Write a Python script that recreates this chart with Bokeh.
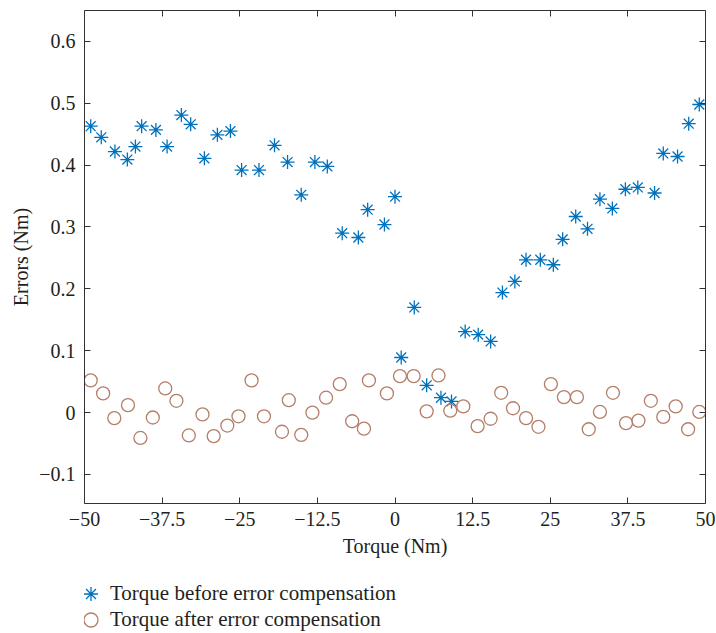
from bokeh.plotting import figure
from bokeh.layouts import column
from bokeh.models import Range1d, LinearAxis, FixedTicker, Legend, LegendItem
from bokeh.embed import file_html
from bokeh.resources import INLINE

# Torque before error compensation
x_before = [-49.0, -47.3, -45.1, -43.1, -41.8, -40.8, -38.5, -36.7, -34.4, -32.9,
            -30.7, -28.6, -26.5, -24.7, -21.9, -19.4, -17.3, -15.1, -12.9, -10.9,
            -8.5, -5.9, -4.4, -1.7, 0.0, 1.0, 3.1, 5.1, 7.4, 9.1,
            11.3, 13.4, 15.4, 17.3, 19.3, 21.1, 23.4, 25.5, 27.0, 29.1,
            31.0, 33.0, 35.0, 37.1, 39.1, 41.8, 43.2, 45.5, 47.3, 49.0]
y_before = [0.463, 0.445, 0.422, 0.409, 0.430, 0.463, 0.457, 0.430, 0.481, 0.466,
            0.411, 0.449, 0.455, 0.392, 0.392, 0.432, 0.405, 0.352, 0.405, 0.398,
            0.290, 0.283, 0.328, 0.304, 0.349, 0.089, 0.170, 0.044, 0.024, 0.018,
            0.131, 0.126, 0.115, 0.194, 0.212, 0.247, 0.247, 0.239, 0.280, 0.317,
            0.297, 0.345, 0.330, 0.361, 0.364, 0.355, 0.419, 0.414, 0.467, 0.498]

# Torque after error compensation
x_after = [-49.0, -47.0, -45.2, -43.0, -41.0, -39.0, -37.0, -35.2, -33.2, -31.0,
           -29.2, -27.0, -25.2, -23.1, -21.1, -18.2, -17.1, -15.1, -13.3, -11.1,
           -8.9, -6.9, -5.0, -4.2, -1.3, 0.8, 3.0, 5.1, 7.0, 8.9,
           11.0, 13.3, 15.4, 17.1, 19.0, 21.1, 23.1, 25.1, 27.2, 29.3,
           31.2, 33.0, 35.1, 37.2, 39.2, 41.2, 43.2, 45.2, 47.2, 49.0]
y_after = [0.052, 0.031, -0.009, 0.012, -0.041, -0.008, 0.039, 0.019, -0.037, -0.003,
           -0.038, -0.021, -0.006, 0.052, -0.006, -0.031, 0.020, -0.036, 0.000, 0.024,
           0.046, -0.014, -0.026, 0.052, 0.031, 0.059, 0.059, 0.002, 0.060, 0.003,
           0.010, -0.022, -0.010, 0.032, 0.007, -0.009, -0.023, 0.046, 0.025, 0.025,
           -0.027, 0.001, 0.032, -0.017, -0.013, 0.019, -0.007, 0.010, -0.027, 0.001]

x_ticks = [-50, -37.5, -25, -12.5, 0, 12.5, 25, 37.5, 50]
x_tick_labels = ["\u221250", "\u221237.5", "\u221225", "\u221212.5", "0", "12.5", "25", "37.5", "50"]
y_ticks = [-0.1, 0, 0.1, 0.2, 0.3, 0.4, 0.5, 0.6]
y_tick_labels = ["\u22120.1", "0", "0.1", "0.2", "0.3", "0.4", "0.5", "0.6"]

series_names = ["Torque before error compensation", "Torque after error compensation"]

FONT = "Liberation Serif"
TXT = "#231f20"
AX = "#333333"
BLUE = "#0072BD"
BROWN = "#B47E68"

p = figure(width=716, height=570, output_backend="svg", toolbar_location=None,
           x_range=Range1d(-50, 50), y_range=Range1d(-0.147, 0.65),
           min_border_left=84, min_border_right=11, min_border_top=10, min_border_bottom=67,
           x_axis_label="Torque (Nm)", y_axis_label="Errors (Nm)")
p.grid.visible = False
p.outline_line_color = None
p.background_fill_color = "white"
p.border_fill_color = "white"

for ax in (p.xaxis[0], p.yaxis[0]):
    ax.major_tick_in = 6
    ax.major_tick_out = 0
    ax.minor_tick_line_color = None
    ax.axis_line_color = AX
    ax.major_tick_line_color = AX
    ax.major_label_text_font = FONT
    ax.major_label_text_font_size = "20px"
    ax.major_label_text_color = TXT
    ax.axis_label_text_font = FONT
    ax.axis_label_text_font_size = "20px"
    ax.axis_label_text_font_style = "normal"
    ax.axis_label_text_color = TXT

p.xaxis[0].ticker = FixedTicker(ticks=x_ticks)
p.xaxis[0].major_label_overrides = {t: l for t, l in zip(x_ticks, x_tick_labels)}
p.xaxis[0].major_label_standoff = 8
p.xaxis[0].axis_label_standoff = 6
p.yaxis[0].ticker = FixedTicker(ticks=y_ticks)
p.yaxis[0].major_label_overrides = {t: l for t, l in zip(y_ticks, y_tick_labels)}
p.yaxis[0].major_label_standoff = 9
p.yaxis[0].axis_label_standoff = 4

# box axes on top and right with inward ticks, no labels
top_ax = LinearAxis(ticker=FixedTicker(ticks=x_ticks))
right_ax = LinearAxis(ticker=FixedTicker(ticks=y_ticks))
for ax, ticks in ((top_ax, x_ticks), (right_ax, y_ticks)):
    ax.major_tick_in = 6
    ax.major_tick_out = 0
    ax.minor_tick_line_color = None
    ax.axis_line_color = AX
    ax.major_tick_line_color = AX
    ax.major_label_overrides = {t: "" for t in ticks}
    ax.major_label_text_font_size = "0px"
    ax.major_label_standoff = 0
p.add_layout(top_ax, "above")
p.add_layout(right_ax, "right")

before_style = dict(marker="asterisk", size=14, line_color=BLUE, line_width=1.3)
after_style = dict(marker="circle", size=13, line_color=BROWN, fill_color=None, line_width=1.3)
p.scatter(x_before, y_before, **before_style)
p.scatter(x_after, y_after, **after_style)

# legend strip below the chart (its y range lies outside the data, so only the legend shows)
pl = figure(width=716, height=63, output_backend="svg", toolbar_location=None,
            x_range=Range1d(-50, 50), y_range=Range1d(10, 11),
            x_axis_location=None, y_axis_location=None,
            min_border_left=0, min_border_right=0, min_border_top=0, min_border_bottom=0)
pl.grid.visible = False
pl.outline_line_color = None
pl.background_fill_color = "white"
pl.border_fill_color = "white"
lr1 = pl.scatter(x_before, y_before, **before_style)
lr2 = pl.scatter(x_after, y_after, **after_style)

common = dict(orientation="vertical", glyph_width=35, glyph_height=35, spacing=0,
              padding=0, margin=0, label_standoff=2, label_text_font=FONT,
              label_text_font_size="21px", label_text_color=TXT,
              border_line_color=None, background_fill_color=None)
leg1 = Legend(items=[LegendItem(label=series_names[0], renderers=[lr1])],
              location=(-11, 22), **common)
leg2 = Legend(items=[LegendItem(label=series_names[1], renderers=[lr2])],
              location=(-11, -4), **common)
pl.add_layout(leg1)
pl.add_layout(leg2)

layout = column(p, pl, spacing=0)
open("out.html", "w").write(file_html(layout, INLINE))
